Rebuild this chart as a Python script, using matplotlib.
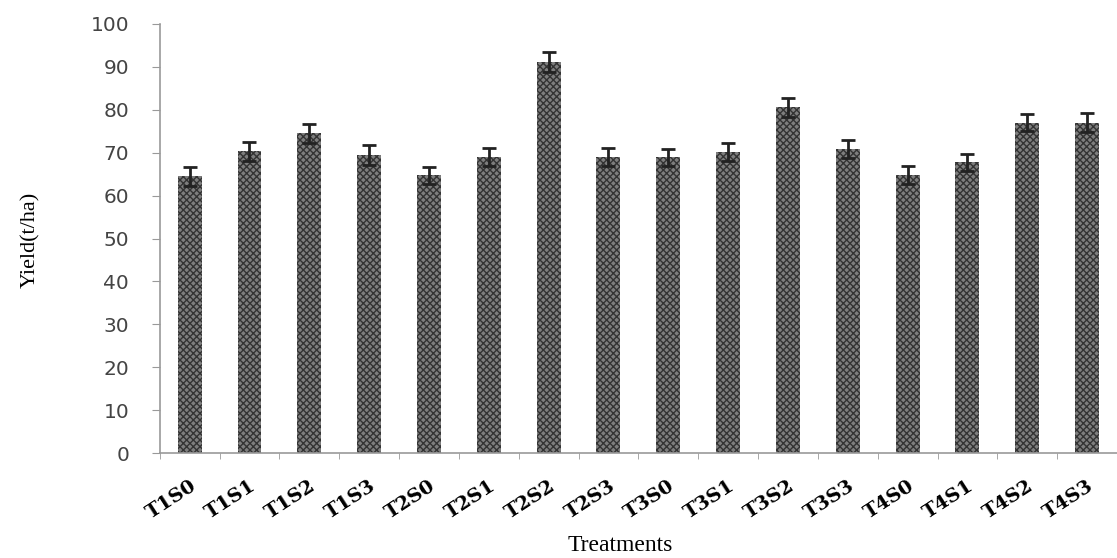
"""Bar chart of yield per treatment with error bars."""

import matplotlib.pyplot as plt
import numpy as np

treatments = ["T1S0", "T1S1", "T1S2", "T1S3", "T2S0", "T2S1", "T2S2", "T2S3",
              "T3S0", "T3S1", "T3S2", "T3S3", "T4S0", "T4S1", "T4S2", "T4S3"]
yield_t_ha = [64.5, 70.3, 74.5, 69.5, 64.7, 69.0, 91.2, 69.0,
              68.9, 70.2, 80.6, 70.8, 64.8, 67.8, 77.0, 77.0]
yield_err = [2.2, 2.2, 2.2, 2.3, 2.0, 2.0, 2.3, 2.0,
             2.0, 2.1, 2.2, 2.1, 2.0, 2.0, 2.0, 2.2]
y_ticks = list(range(0, 101, 10))

fig = plt.figure(figsize=(11.17, 5.58), dpi=100)
ax = fig.add_axes([0.143, 0.188, 0.857, 0.769])

x = np.arange(len(treatments))
plt.rcParams["hatch.linewidth"] = 1.0
ax.bar(x, yield_t_ha, width=0.4, color="#7e7e7e", edgecolor="#333333",
       hatch="xxxxx", linewidth=0)
ax.errorbar(x, yield_t_ha, yerr=yield_err, fmt="none", ecolor="#222222",
            elinewidth=2.0, capsize=5, capthick=2.0)

ax.set_xlim(-0.5, len(treatments) - 0.5)
ax.set_ylim(0, 100)
ax.set_yticks(y_ticks)
ax.set_yticklabels([str(v) for v in y_ticks], fontsize=14.5, color="#444444",
                   family="DejaVu Sans")
ax.tick_params(axis="y", direction="out", length=6, color="#999999", pad=16)

ax.set_xticks(x)
ax.set_xticklabels(treatments, rotation=33, ha="right", rotation_mode="anchor",
                   fontsize=14, fontweight="bold", family="DejaVu Serif")
ax.tick_params(axis="x", length=0, pad=17)
ax.set_xticks(np.arange(len(treatments) + 1) - 0.5, minor=True)
ax.tick_params(axis="x", which="minor", direction="out", length=4, color="#999999")

for side in ("top", "right"):
    ax.spines[side].set_visible(False)
for side in ("left", "bottom"):
    ax.spines[side].set_color("#999999")
    ax.spines[side].set_linewidth(1.2)

fig.text(0.027, 0.57, "Yield(t/ha)", rotation=90, ha="center", va="center",
         fontsize=16, family="Liberation Serif")
fig.text(0.555, 0.022, "Treatments", ha="center", va="center",
         fontsize=17, family="Liberation Serif")

fig.savefig("out.png", dpi=100)
plt.close(fig)
